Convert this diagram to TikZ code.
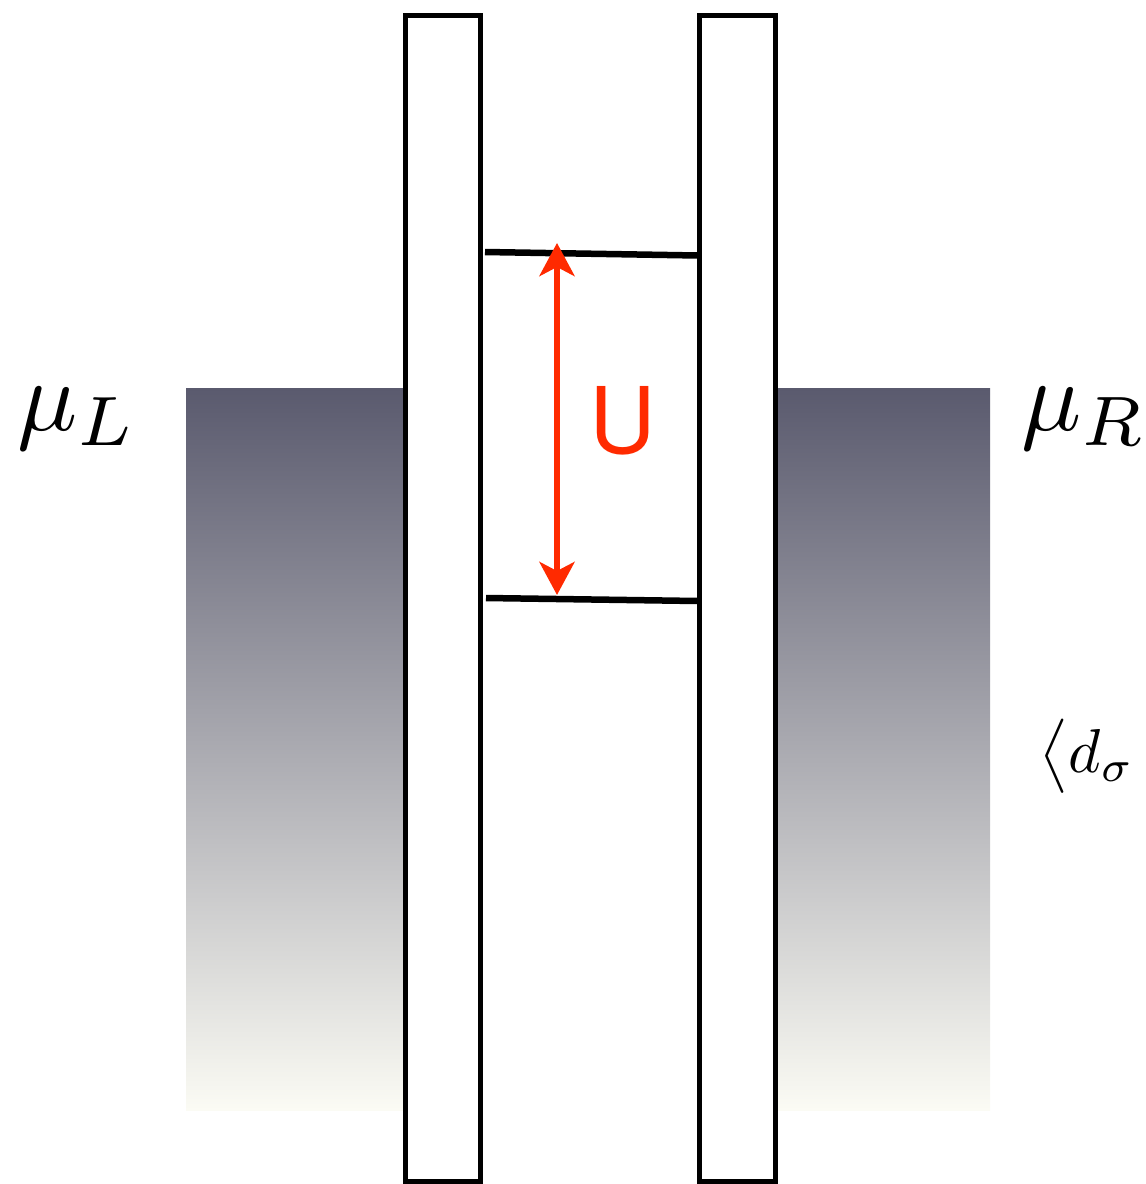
\documentclass[tikz,border=0pt]{standalone}
\usepackage{graphicx}
\usepackage{fontspec}
\newfontfamily\ufont{TeX Gyre Heros}
\usetikzlibrary{arrows.meta}
\definecolor{ured}{RGB}{255,42,0}
\definecolor{topc}{RGB}{90,90,110}
\definecolor{botc}{RGB}{251,251,244}
\tikzset{
  barrier/.style={draw=black,line width=5.5pt,fill=white},
  level/.style={line width=6.5pt,black},
  uarrow/.style={ured,line width=6pt,{Stealth[length=33pt,width=35pt,inset=9pt]}-{Stealth[length=33pt,width=35pt,inset=9pt]}},
  reservoir/.style={top color=topc,bottom color=botc,draw=none},
  biglabel/.style={inner sep=0pt},
}
\begin{document}
\begin{tikzpicture}[x=1pt,y=-1pt]
\useasboundingbox (0,0) rectangle (1146,1184);
\clip (0,0) rectangle (1146,1184);
% reservoirs
\shade[reservoir] (186,388) rectangle (406,1110);
\shade[reservoir] (774,388) rectangle (990,1110);
% barriers
\draw[barrier] (405.5,15.5) rectangle (480.5,1181.5);
\draw[barrier] (699.5,15.5) rectangle (775.5,1181.5);
% levels
\coordinate (t1) at (485,252);
\coordinate (t2) at (698,255.5);
\coordinate (b1) at (486,598);
\coordinate (b2) at (698,601);
\draw[level] (t1) -- (t2);
\draw[level] (b1) -- (b2);
% arrow
\coordinate (atop) at (557,243);
\coordinate (abot) at (557,595);
\draw[uarrow] (abot) -- (atop);
\node[anchor=base west,inner sep=0pt,text=ured,font=\ufont\fontsize{92}{100}\selectfont] (U) at (589,453) {U};
% labels
\node[biglabel,anchor=base west] (muL) at (17,430) {\scalebox{10}{$\mu_L$}};
\node[biglabel,anchor=base west] (muR) at (1021,430) {\scalebox{10}{$\mu_R$}};
\node[biglabel,anchor=base west] (d) at (1039,772) {\scalebox{6.2}{$\bigl\langle d_\sigma$}};
\end{tikzpicture}
\end{document}
